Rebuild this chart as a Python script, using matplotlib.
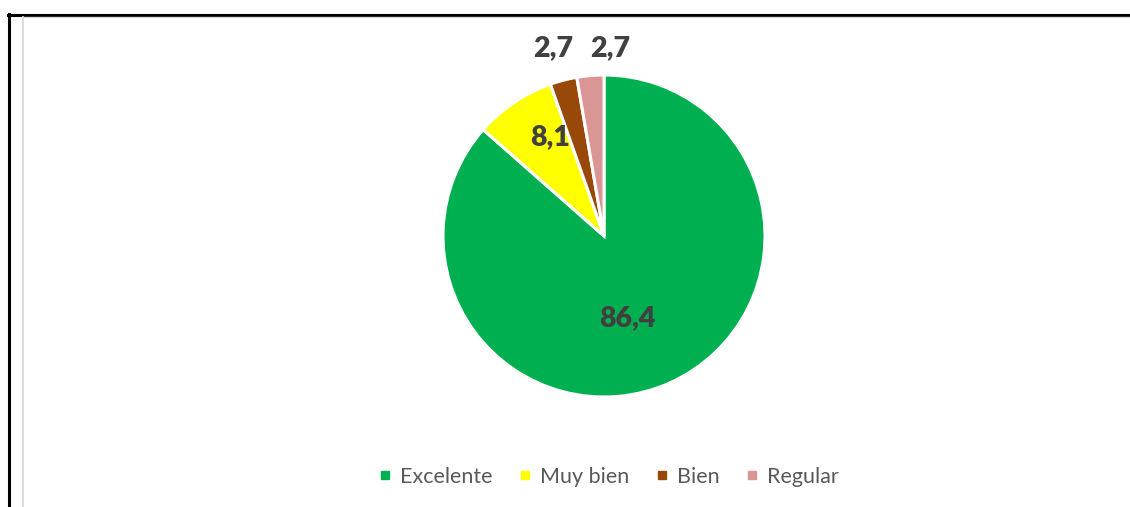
import matplotlib.pyplot as plt
from matplotlib.lines import Line2D

# data
categorias = ['Excelente', 'Muy bien', 'Bien', 'Regular']
valores = [86.4, 8.1, 2.7, 2.7]
etiquetas = ['86,4', '8,1', '2,7', '2,7']
colores = ['#00B050', '#FFFF00', '#984807', '#DA9694']

# label spots (data units, radius = 1)
pos_etiquetas = [(0.143, -0.509), (-0.335, 0.615), (-0.317, 1.17), (0.037, 1.17)]

fig = plt.figure(figsize=(11.3, 5.07), dpi=100)
fig.patch.set_facecolor('white')

# axes placed so the pie centre sits at (604, 236) px with radius 161 px
W, H = 1130, 507
cx, cy, r = 604, 236, 161
ext = 1.5
ax = fig.add_axes([(cx - ext * r) / W, (H - cy - ext * r) / H,
                   2 * ext * r / W, 2 * ext * r / H])

wedges, _ = ax.pie(valores, colors=colores, startangle=90, counterclock=False,
                   radius=1, wedgeprops=dict(edgecolor='white', linewidth=2.2))
ax.set_xlim(-ext, ext)
ax.set_ylim(-ext, ext)
ax.axis('off')

for (x, y), txt in zip(pos_etiquetas, etiquetas):
    ax.text(x, y, txt, ha='center', va='center', fontsize=20.5,
            fontweight='heavy', color='#404040', family='Lato')

# legend
handles = [Line2D([], [], marker='s', linestyle='none', markersize=5.5,
                  markerfacecolor=c, markeredgecolor=c) for c in colores]
fig.legend(handles, categorias, loc='center', bbox_to_anchor=(609 / W, 1 - 477 / H),
           ncol=4, frameon=False, handlelength=0.5, handletextpad=0.45,
           columnspacing=1.25, prop=dict(family='Lato', size=15.5),
           labelcolor='#595959')

# outer frame lines
fig.add_artist(Line2D([8 / W, 1], [1 - 15 / H, 1 - 15 / H], color='black', lw=2.2,
                      transform=fig.transFigure))
fig.add_artist(Line2D([8.5 / W, 8.5 / W], [0, 1 - 14 / H], color='black', lw=2.2,
                      transform=fig.transFigure))
fig.add_artist(Line2D([23 / W, 23 / W], [0, 1 - 17 / H], color='#D9D9D9', lw=1.3,
                      transform=fig.transFigure))
fig.add_artist(Line2D([23 / W, 1], [1 - 17.2 / H, 1 - 17.2 / H], color='#D9D9D9', lw=1.0,
                      transform=fig.transFigure))

fig.savefig('out.png', dpi=100, facecolor='white')
